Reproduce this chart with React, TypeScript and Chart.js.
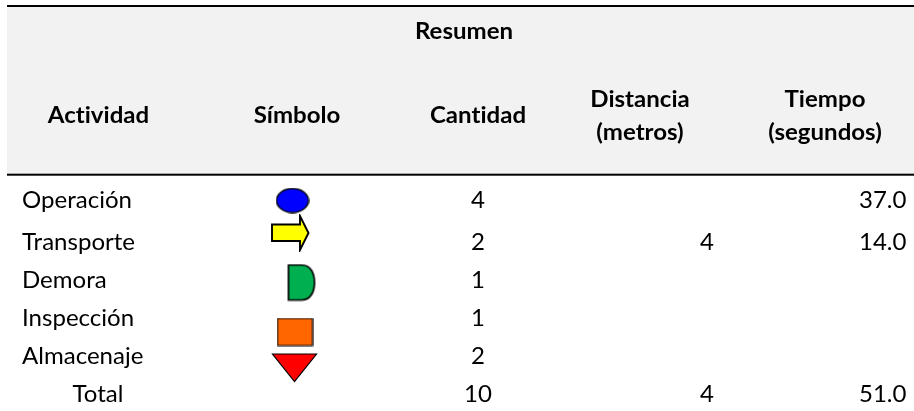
import React, { useEffect, useRef } from "react";
import { Chart, registerables } from "chart.js";

Chart.register(...registerables);

const titulo = "Resumen";
const actividades = ["Operación", "Transporte", "Demora", "Inspección", "Almacenaje"];
const totalLabel = "Total";
const cantidad = [4, 2, 1, 1, 2];
const distancia: (number | null)[] = [null, 4, null, null, null];
const tiempo: (number | null)[] = [37.0, 14.0, null, null, null];
const totalCantidad = 10;
const totalDistancia = 4;
const totalTiempo = 51.0;

const W = 914;
const H = 411;
const FONT = "Lato, Carlito, Calibri, sans-serif";
const SIZE = 23;
const HSCALE = 1.045;
const baselines = [208, 249.5, 287.5, 326, 364, 401.7];

type Shape = (c: CanvasRenderingContext2D, w: number, h: number) => void;
function sprite(w: number, h: number, fill: string, lw: number, shape: Shape) {
  const cv = document.createElement("canvas");
  cv.width = w;
  cv.height = h;
  const c = cv.getContext("2d")!;
  c.fillStyle = fill;
  c.strokeStyle = "#000";
  c.lineWidth = lw;
  c.lineJoin = "miter";
  c.beginPath();
  shape(c, w, h);
  c.closePath();
  c.fill();
  c.stroke();
  return cv;
}

const simbolos = [
  { x: 292.5, y: 200.5, w: 34, h: 26, lw: 1.4, fill: "#0000FF", shape: ((c, w, h) => c.ellipse(w / 2, h / 2, w / 2 - 1, h / 2 - 1, 0, 0, Math.PI * 2)) as Shape },
  { x: 290, y: 233, w: 40, h: 38, lw: 1.9, fill: "#FFFF00", shape: ((c, w, h) => {
    c.moveTo(2, 10.5); c.lineTo(30, 10.5); c.lineTo(30, 2); c.lineTo(38.5, 19); c.lineTo(30, 36); c.lineTo(30, 27); c.lineTo(2, 27);
  }) as Shape },
  { x: 301.5, y: 282.5, w: 30, h: 38, lw: 1.7, fill: "#00B050", shape: ((c, w, h) => {
    c.moveTo(2, 1.5); c.lineTo(15, 1.5); c.bezierCurveTo(25, 1.5, 28, 11, 28, 19); c.bezierCurveTo(28, 27, 25, 36.5, 15, 36.5); c.lineTo(2, 36.5);
  }) as Shape },
  { x: 295, y: 332, w: 37, h: 29, lw: 1.2, fill: "#FF6600", shape: ((c, w, h) => c.rect(1, 1, w - 2, h - 2)) as Shape },
  { x: 294.5, y: 368, w: 47, h: 30, lw: 1.2, fill: "#FF0000", shape: ((c, w, h) => { c.moveTo(1.5, 1); c.lineTo(w - 1.5, 1); c.lineTo(w / 2, h - 1.5); }) as Shape },
];

const tablePlugin = {
  id: "tabla",
  beforeDatasetsDraw(chart: any) {
    const { ctx, scales } = chart;
    const X = (v: number) => scales.x.getPixelForValue(v);
    const Y = (v: number) => scales.y.getPixelForValue(v);
    ctx.save();
    ctx.fillStyle = "#F2F2F2";
    ctx.fillRect(X(7), Y(6), X(914) - X(7), Y(175) - Y(6));
    ctx.fillStyle = "#000";
    ctx.fillRect(X(7), Y(5), X(914) - X(7), 2);
    ctx.fillRect(X(7), Y(173.7), X(914) - X(7), 2);
    const text = (s: string, x: number, y: number, align: string, bold = false) => {
      ctx.save();
      ctx.font = `${bold ? "700" : "400"} ${SIZE}px ${FONT}`;
      (ctx as any).letterSpacing = "0.01px";
      ctx.fillStyle = "#000";
      ctx.textBaseline = "alphabetic";
      ctx.textAlign = align;
      ctx.translate(X(x), Y(y));
      ctx.scale(HSCALE, 1);
      ctx.fillText(s, 0, 0);
      ctx.restore();
    };
    text(titulo, 464, 39, "center", true);
    text("Actividad", 98.5, 123, "center", true);
    text("Símbolo", 297, 123, "center", true);
    text("Cantidad", 478, 123, "center", true);
    text("Distancia", 640, 106.7, "center", true);
    text("(metros)", 640, 140, "center", true);
    text("Tiempo", 825, 106.7, "center", true);
    text("(segundos)", 825, 140, "center", true);
    actividades.forEach((a, i) => {
      text(a, 22, baselines[i], "left");
      text(String(cantidad[i]), 478, baselines[i], "center");
      if (distancia[i] != null) text(String(distancia[i]), 707, baselines[i], "center");
      if (tiempo[i] != null) text((tiempo[i] as number).toFixed(1), 906.5, baselines[i], "right");
    });
    text(totalLabel, 98, baselines[5], "center");
    text(String(totalCantidad), 478, baselines[5], "center");
    text(String(totalDistancia), 707, baselines[5], "center");
    text(totalTiempo.toFixed(1), 906.5, baselines[5], "right");
    ctx.restore();
  },
};

export default function App() {
  const ref = useRef<HTMLCanvasElement>(null);
  useEffect(() => {
    const chart = new Chart(ref.current!, {
      type: "scatter",
      data: {
        datasets: [
          {
            label: "Símbolo",
            data: simbolos.map((s) => ({ x: s.x, y: s.y })),
            pointStyle: simbolos.map((s) => sprite(s.w, s.h, s.fill, s.lw, s.shape)),
            pointRadius: 10,
            clip: false,
          } as any,
        ],
      },
      options: {
        responsive: false,
        animation: false,
        layout: { padding: 0, autoPadding: false },
        plugins: { legend: { display: false }, tooltip: { enabled: false }, title: { display: false } },
        scales: {
          x: { type: "linear", min: 0, max: W, display: false },
          y: { type: "linear", min: 0, max: H, reverse: true, display: false },
        },
      },
      plugins: [tablePlugin],
    });
    return () => chart.destroy();
  }, []);
  return (
    <canvas
      ref={ref}
      width={W}
      height={H}
      style={{ position: "fixed", left: 0, top: 0, width: W, height: H, display: "block" }}
    />
  );
}
